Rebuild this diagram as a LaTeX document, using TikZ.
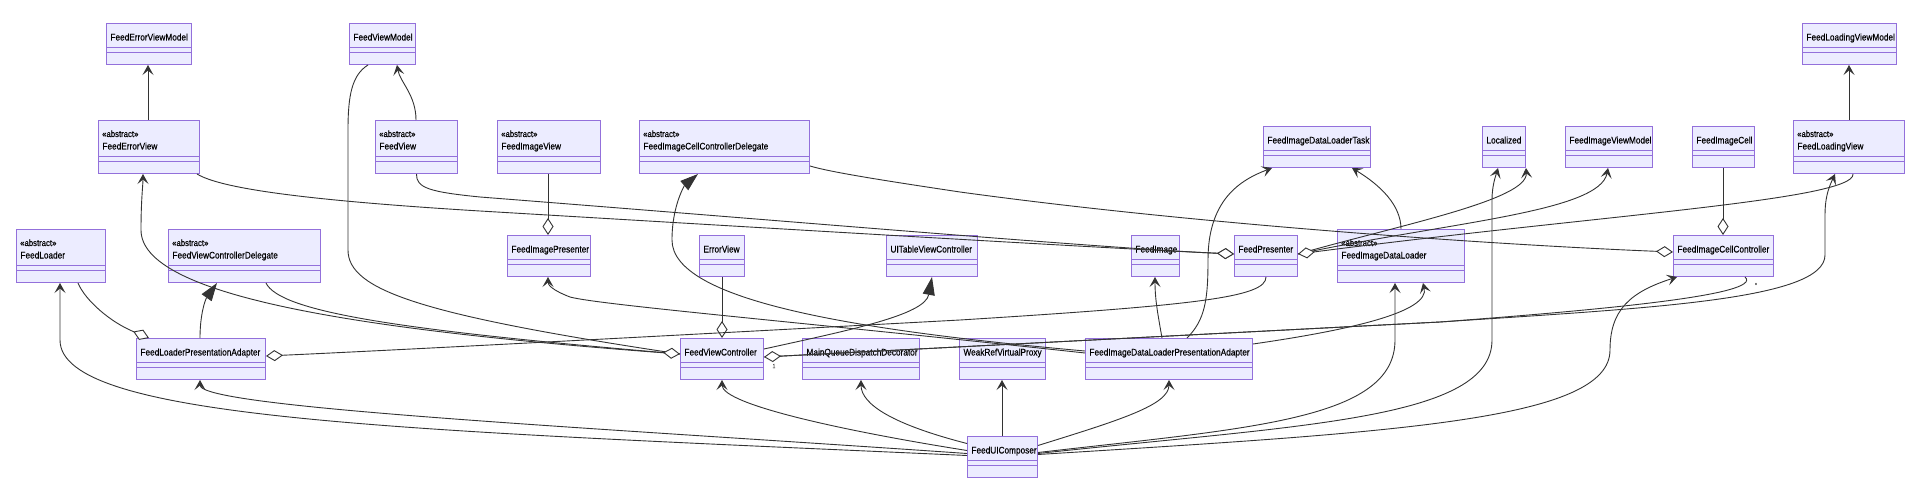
\documentclass[tikz,border=0pt]{standalone}
\usepackage{fontspec}
\setmainfont{Liberation Sans}[FakeStretch=0.86, FakeBold=0.35]
\usetikzlibrary{arrows.meta}
\definecolor{clsfill}{HTML}{ECECFF}
\definecolor{clsborder}{HTML}{9370DB}
\definecolor{relcol}{HTML}{333333}
\hyphenpenalty=10000
\exhyphenpenalty=10000
\begin{document}
\begin{tikzpicture}[x=1pt, y=-1pt,
    cls/.style={draw=clsborder, fill=clsfill, line width=1pt, anchor=north west,
        inner xsep=4pt, inner ysep=0pt, text width=#1, align=left,
        font=\fontsize{9.6}{11}\selectfont, text=black,
        text height=17pt, text depth=24pt,
        path picture={\draw[clsborder, line width=1pt]
            ([yshift=17pt]path picture bounding box.south west) -- ([yshift=17pt]path picture bounding box.south east)
            ([yshift=12pt]path picture bounding box.south west) -- ([yshift=12pt]path picture bounding box.south east);}},
    abs/.style={cls=#1, text height=29pt},
    stereo/.style={anchor=base west, inner sep=0pt, font=\fontsize{9}{10}\selectfont},
    rel/.style={draw=relcol, line width=0.9pt},
    dep/.style={rel, -{Stealth[length=10pt, width=11pt, inset=4.5pt]}},
    agg/.style={rel, -{Diamond[length=17pt, width=11pt, fill=white]}},
    ext/.style={rel, -{Triangle[length=18pt, width=12pt]}},
    mult/.style={font=\fontsize{6}{7}\selectfont, text=relcol!80, inner sep=0pt}]
    \useasboundingbox (0,0) rectangle (1920,500);

    % Clases: fila superior
    \node[cls=77pt] (fevm) at (106,23) {FeedErrorViewModel};
    \node[cls=58pt] (fvm) at (349,23) {FeedViewModel};
    \node[cls=86pt] (flvm) at (1802,23) {FeedLoadingViewModel};

    % Protocolos de vista y modelos
    \node[abs=93pt] (fev) at (98,120) {FeedErrorView};
    \node[abs=74pt] (fv) at (375,120) {FeedView};
    \node[abs=95pt] (fiv) at (497,120) {FeedImageView};
    \node[abs=162pt] (ficcd) at (639,120) {FeedImageCellControllerDelegate};
    \node[abs=103pt] (flv) at (1793,120) {FeedLoadingView};
    \node[cls=99pt] (fidlt) at (1263,126) {FeedImageDataLoaderTask};
    \node[cls=35pt] (loc) at (1482,126) {Localized};
    \node[cls=79pt] (fivm) at (1565,126) {FeedImageViewModel};
    \node[cls=54pt] (fic) at (1692,126) {FeedImageCell};

    % Fila central
    \node[abs=81pt] (fl) at (16,229) {FeedLoader};
    \node[abs=144pt] (fvcd) at (168,229) {FeedViewControllerDelegate};
    \node[abs=119pt] (fidl) at (1337,229) {FeedImageDataLoader};
    \node[cls=75pt] (fip) at (507,235) {FeedImagePresenter};
    \node[cls=37pt] (ev) at (699,235) {ErrorView};
    \node[cls=83pt] (utvc) at (886,235) {UITableViewController};
    \node[cls=40pt] (fi) at (1131,235) {FeedImage};
    \node[cls=55pt] (fp) at (1234,235) {FeedPresenter};
    \node[cls=92pt] (ficc) at (1673,235) {FeedImageCellController};

    % Adaptadores y controladores
    \node[cls=121pt] (flpa) at (136,338) {FeedLoaderPresentationAdapter};
    \node[cls=75pt] (fvc) at (680,338) {FeedViewController};
    \node[cls=109pt] (mqdd) at (802,338) {MainQueueDispatchDecorator};
    \node[cls=78pt] (wrvp) at (959,338) {WeakRefVirtualProxy};
    \node[cls=159pt] (fidlpa) at (1085,338) {FeedImageDataLoaderPresentationAdapter};
    \node[cls=62pt] (fuic) at (967,436) {FeedUIComposer};

    % Estereotipos
    \foreach \n in {fev,fv,fiv,ficcd,flv,fl,fvcd,fidl}
        \node[stereo] (\n-st) at ([xshift=4pt,yshift=-17pt]\n.north west) {«abstract»};

    % Vistas -> modelos de vista
    \draw[dep] ([xshift=50pt]fev.north west) -- ([xshift=42pt]fevm.south west);
    \draw[dep] ([xshift=41pt]fv.north west) .. controls (416,95) and (400,82) .. ([xshift=48pt]fvm.south west);
    \draw[dep] ([xshift=56pt]flv.north west) -- ([xshift=47pt]flvm.south west);

    % Agregaciones verticales
    \draw[agg] ([xshift=51pt]fiv.south west) -- ([xshift=41pt]fip.north west);
    \draw[agg] ([xshift=23pt]ev.south west) -- ([xshift=42pt]fvc.north west);
    \draw[agg] ([xshift=31pt]fic.south west) -- ([xshift=50pt]ficc.north west);

    % FeedLoaderPresentationAdapter
    \draw[agg] ([xshift=62pt]fl.south west) .. controls (85,300) and (110,322) .. ([xshift=13pt]flpa.north west);
    \draw[ext] ([xshift=64pt]flpa.north west) .. controls (200,315) and (205,300) .. ([xshift=49pt]fvcd.south west);
    \draw[agg] ([xshift=32pt]fp.south west) .. controls (1266,297) and (1200,305) .. (960,320)
        .. controls (700,334) and (400,350) .. ([yshift=3pt]flpa.east);

    % FeedUIComposer crea todo
    \draw[dep] ([yshift=1.5pt]fuic.west) .. controls (400,430) and (60,420) .. (60,340) -- ([xshift=44pt]fl.south west);
    \draw[dep] ([yshift=3.5pt]fuic.west) .. controls (600,428) and (200,408) .. ([xshift=64pt]flpa.south west);
    \draw[dep] ([yshift=6.5pt]fuic.west) .. controls (850,432) and (722,405) .. ([xshift=42pt]fvc.south west);
    \draw[dep] ([yshift=13.5pt]fuic.west) .. controls (895,425) and (861,405) .. ([xshift=59pt]mqdd.south west);
    \draw[dep] ([xshift=35pt]fuic.north west) -- ([xshift=43pt]wrvp.south west);
    \draw[dep] ([yshift=11.5pt]fuic.east) .. controls (1120,420) and (1169,405) .. ([xshift=84pt]fidlpa.south west);
    \draw[dep] ([yshift=4.5pt]fuic.east) .. controls (1250,428) and (1395,420) .. (1395,340) -- ([xshift=58pt]fidl.south west);
    \draw[dep] ([yshift=3.5pt]fuic.east) .. controls (1300,425) and (1492,420) .. (1492,340) -- (1492,200)
        .. controls (1492,185) and (1496,175) .. ([xshift=16pt]loc.south west);
    \draw[dep] ([yshift=2.5pt]fuic.east) .. controls (1400,432) and (1610,420) .. (1610,350)
        .. controls (1610,310) and (1630,292) .. ([xshift=4pt]ficc.south west);

    % FeedViewController, lado oeste
    \draw[dep] ([yshift=5pt]fvc.west) .. controls (350,330) and (141,295) .. (141,230)
        .. controls (141,200) and (143,185) .. ([xshift=45pt]fev.south west);
    \draw[rel] ([xshift=19pt]fvm.south west) .. controls (352,75) and (348,95) .. (348,130) -- (348,250)
        .. controls (348,290) and (420,315) .. ([yshift=5pt]fvc.west);
    \draw[agg] ([xshift=98pt]fvcd.south west) .. controls (280,312) and (400,330) .. ([yshift=5pt]fvc.west);

    % FeedViewController, lado este
    \draw[ext] ([yshift=10pt]fvc.east) .. controls (850,330) and (925,315) .. ([xshift=46pt]utvc.south west);
    \draw[dep] ([yshift=2pt]fvc.east) -- (1440,322) .. controls (1650,308) and (1825,300) .. (1825,255) -- (1825,215)
        .. controls (1825,195) and (1830,185) .. ([xshift=42pt]flv.south west);
    \draw[agg] ([xshift=72pt]ficc.south west) .. controls (1765,295) and (1600,310) .. (1440,322) -- ([yshift=2pt]fvc.east);
    \node[mult] (m-fvc) at (774,366) {1};
    \node[mult] (m-ficc) at (1756,285) {*};

    % FeedPresenter
    \draw[agg] (fv.south) .. controls (416,188) and (430,192) .. (480,197)
        .. controls (800,222) and (1100,248) .. ([yshift=2pt]fp.west);
    \draw[agg] ([xshift=99pt]fev.south west) .. controls (220,188) and (300,200) .. (480,211)
        .. controls (800,230) and (1100,248) .. ([yshift=2pt]fp.west);
    \draw[dep] ([yshift=2pt]fp.east) .. controls (1400,225) and (1528,200) .. ([xshift=44pt]loc.south west);
    \draw[dep] ([yshift=2pt]fp.east) .. controls (1450,222) and (1600,212) .. ([xshift=43pt]fivm.south west);
    \draw[agg] ([xshift=60pt]flv.south west) .. controls (1855,200) and (1600,215) .. ([yshift=2pt]fp.east);

    % Delegado de celda
    \draw[agg] ([yshift=8pt]ficcd.south east) .. controls (830,172) and (880,180) .. (960,192)
        .. controls (1200,225) and (1500,245) .. ([yshift=4pt]ficc.west);
    \draw[ext] ([yshift=8pt]fidlpa.west) .. controls (850,330) and (672,300) .. (672,240)
        .. controls (672,205) and (685,185) .. ([xshift=59pt]ficcd.south west);
    \draw[dep] ([yshift=6pt]fidlpa.west) .. controls (800,322) and (600,305) .. (570,297)
        .. controls (552,290) and (548,285) .. ([xshift=41pt]fip.south west);

    % FeedImageDataLoaderPresentationAdapter
    \draw[dep] ([xshift=77pt]fidlpa.north west) .. controls (1158,315) and (1155,300) .. ([xshift=24pt]fi.south west);
    \draw[dep] ([xshift=102pt]fidlpa.north west) .. controls (1205,320) and (1208,300) .. (1208,260)
        .. controls (1208,200) and (1240,180) .. ([xshift=9pt]fidlt.south west);
    \draw[dep] ([yshift=15pt]fidlpa.east) .. controls (1350,330) and (1430,312) .. ([xshift=86pt]fidl.south west);
    \draw[dep] ([xshift=64pt]fidl.north west) .. controls (1401,205) and (1380,185) .. ([xshift=89pt]fidlt.south west);
\end{tikzpicture}
\end{document}
